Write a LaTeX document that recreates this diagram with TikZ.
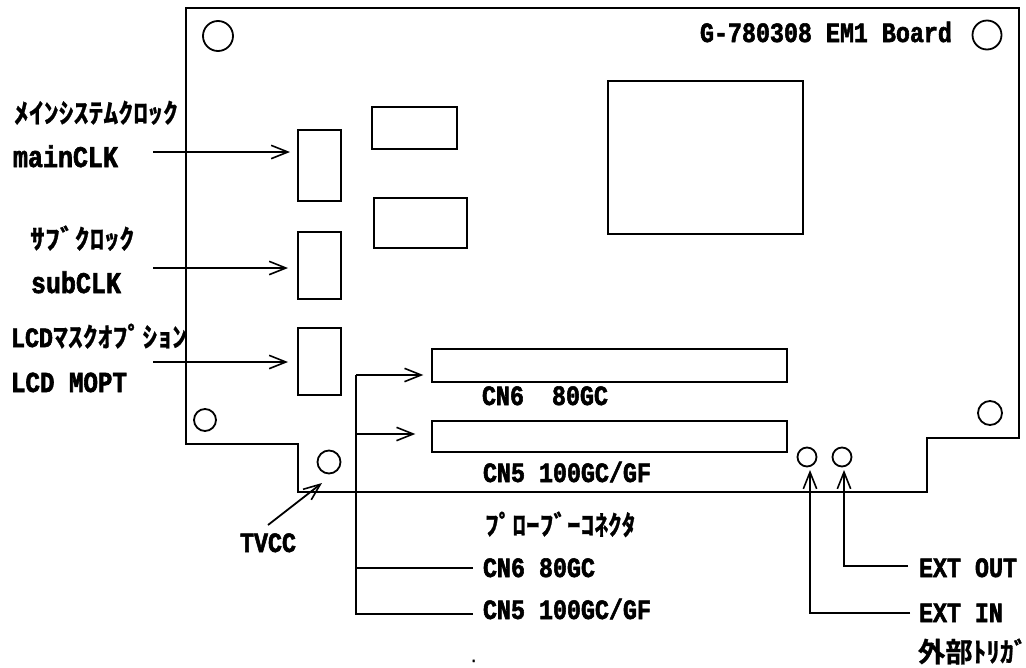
\documentclass[tikz,border=0pt]{standalone}
\usepackage{fontspec}
\usetikzlibrary{arrows.meta}
\newfontfamily\lat[FakeBold=2,FakeStretch=0.833]{Liberation Mono Bold}
\newfontfamily\jp[FakeBold=1]{Noto Sans CJK JP Bold}
\newfontfamily\jpw[FakeBold=1,FakeStretch=1.09]{Noto Sans CJK JP Bold}
\newcommand{\ltx}[1]{{\lat\fontsize{21pt}{24pt}\selectfont #1}}
\newcommand{\lty}[1]{{\lat\fontsize{21.75pt}{24pt}\selectfont #1}}
\newcommand{\ltw}[1]{{\lat\fontsize{22.5pt}{24pt}\selectfont #1}}
\newcommand{\jtx}[1]{{\jp\fontsize{20.5pt}{22pt}\selectfont #1}}
\newcommand{\jtw}[1]{{\jpw\fontsize{20.5pt}{22pt}\selectfont #1}}
\tikzset{
  px/.style={x=0.75pt,y=-0.75pt},
  ln/.style={line width=1.35pt,black},
  barb/.style={ln,-{Straight Barb[length=12.5pt,width=10pt,line width=1.2pt]}},
  boxn/.style 2 args={draw,line width=1.35pt,inner sep=0pt,outer sep=0pt,anchor=north west,minimum width=#1*0.75pt,minimum height=#2*0.75pt},
  hole/.style={draw,circle,line width=1.35pt,inner sep=0pt,outer sep=0pt,minimum size=#1*0.75pt},
  lbl/.style={inner sep=0pt,outer sep=0pt,anchor=base west}
}
\begin{document}
\begin{tikzpicture}[px]
\useasboundingbox (0,0) rectangle (1026,668);
% board
\draw[ln,line join=miter] (186,8) -- (1019,8) -- (1019,438) -- (927,438) -- (927,492) -- (298,492) -- (298,444) -- (186,444) -- cycle;
% holes
\node[hole=30] (h1) at (218,36) {};
\node[hole=29] (h2) at (987,35) {};
\node[hole=22] (h3) at (205,420) {};
\node[hole=24] (h4) at (990,413) {};
\node[hole=23] (tv) at (329,462) {};
\node[hole=19] (ei) at (807,457) {};
\node[hole=19] (eo) at (842,457) {};
% boxes
\node[boxn={43}{71}] (bm) at (298,130) {};
\node[boxn={43}{67}] (bs) at (298,232) {};
\node[boxn={43}{67}] (bl) at (298,328) {};
\node[boxn={85}{42}] (c1) at (372,107) {};
\node[boxn={93}{50}] (c2) at (374,198) {};
\node[boxn={195}{153}] (cpu) at (608,81) {};
\node[boxn={355}{33}] (cn6) at (432,349) {};
\node[boxn={355}{31}] (cn5) at (432,421) {};
% labels
\node[lbl] (title) at (700,42) {\ltx{G-780308 EM1 Board}};
\node[lbl] (jm) at (14,123) {\jtw{ﾒｲﾝｼｽﾃﾑｸﾛｯｸ}};
\node[lbl] (tm) at (13,167) {\ltw{mainCLK}};
\node[lbl] (js) at (30,249) {\jtw{ｻﾌﾞｸﾛｯｸ}};
\node[lbl] (ts) at (31,293) {\ltw{subCLK}};
\node[lbl] (jl) at (11,347) {\ltx{LCD}\jtw{ﾏｽｸｵﾌﾟｼｮﾝ}};
\node[lbl] (tl) at (11,392) {\lty{LCD MOPT}};
\node[lbl] (u6) at (482,405) {\ltx{CN6\ \ 80GC}};
\node[lbl] (u5) at (483,482) {\ltx{CN5 100GC/GF}};
\node[lbl] (jp) at (485,535) {\jtx{ﾌﾟﾛｰﾌﾞｰｺﾈｸﾀ}};
\node[lbl] (l6) at (483,577) {\ltx{CN6 80GC}};
\node[lbl] (l5) at (483,619) {\ltx{CN5 100GC/GF}};
\node[lbl] (tvl) at (240,552) {\ltx{TVCC}};
\node[lbl] (xo) at (919,577) {\ltx{EXT OUT}};
\node[lbl] (xi) at (919,622) {\ltx{EXT IN}};
\node[lbl] (xj) at (918,662) {\jtx{外部ﾄﾘｶﾞ}};
\node[lbl] (dot) at (470,662) {{\lat\fontsize{11pt}{12pt}\selectfont .}};
% clock arrows
\coordinate (sm) at (153,152);
\coordinate (ss) at (153,268);
\coordinate (sl) at (153,362);
\draw[barb,shorten >=6pt] (sm) -- (sm -| bm.west);
\draw[barb,shorten >=7.5pt] (ss) -- (ss -| bs.west);
\draw[barb,shorten >=7.5pt] (sl) -- (sl -| bl.west);
% probe bus
\coordinate (b1) at (356,375);
\coordinate (b2) at (356,434);
\coordinate (b3) at (356,568);
\coordinate (b4) at (356,614);
\draw[ln,shorten >=7.5pt] (b1) -- (b4) -- (b4 -| l5.west);
\draw[ln,shorten >=7.5pt] (b3) -- (b3 -| l6.west);
\draw[barb,shorten >=6.5pt] (b1) -- (b1 -| cn6.west);
\draw[barb,shorten >=12.5pt] (b2) -- (b2 -| cn5.west);
% TVCC
\coordinate (tvs) at (268,525);
\coordinate (tvt) at (322,483);
\draw[barb] (tvs) -- (tvt);
% external trigger
\coordinate (eot) at (844,470);
\coordinate (eit) at (810,470);
\coordinate (eoc) at (908,566);
\coordinate (eic) at (910,613);
\draw[barb] (eoc) -| (eot);
\draw[barb] (eic) -| (eit);
\end{tikzpicture}
\end{document}
